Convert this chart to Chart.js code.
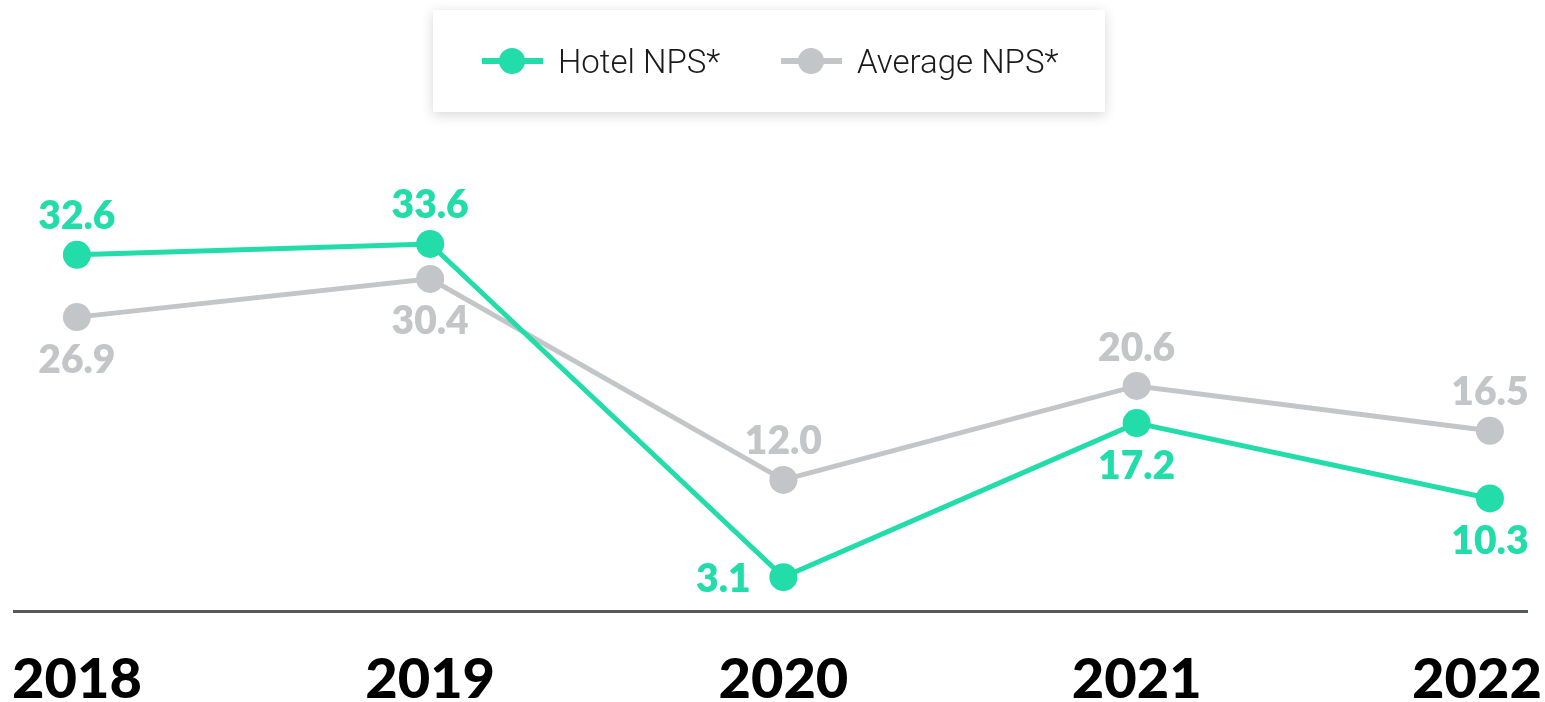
<!DOCTYPE html>
<html>
<head>
<meta charset="utf-8">
<script src="https://cdn.jsdelivr.net/npm/chart.js@4.4.1/dist/chart.umd.min.js"></script>
<style>
  html, body { margin: 0; padding: 0; background: #fff; }
  #wrap { position: relative; width: 1545px; height: 702px; }
  #legend {
    position: absolute; left: 433px; top: 10px; width: 672px; height: 102px;
    background: #fff; box-shadow: 0 3px 12px rgba(0,0,0,0.16);
    display: flex; align-items: center; padding-left: 49px; box-sizing: border-box;
    font-family: Roboto, sans-serif; font-weight: 300; font-size: 33px; color: #1a1a1a;
  }
  .item { display: flex; align-items: center; width: 299px; }
  .mark { position: relative; width: 61px; height: 26px; margin-right: 15px; flex: none; }
  .mark .ln { position: absolute; left: 0; right: 0; top: 10px; height: 6px; }
  .mark .dot { position: absolute; left: 17px; top: 0; width: 26px; height: 26px; border-radius: 50%; }
</style>
</head>
<body>
<div id="wrap">
  <canvas id="chart" width="1545" height="702"></canvas>
  <div id="legend"></div>
</div>
<script>
// data
var years = ['2018', '2019', '2020', '2021', '2022'];
var hotelNps = [32.6, 33.6, 3.1, 17.2, 10.3];
var averageNps = [26.9, 30.4, 12.0, 20.6, 16.5];

var teal = '#22dca9';
var grey = '#c2c6c8';

// where each value label sits relative to its point
var hotelLabelPos = ['above', 'above', 'left', 'below', 'below'];
var averageLabelPos = ['below', 'below', 'above', 'above', 'above'];

function toPoints(vals) {
  var pts = [];
  for (var i = 0; i < vals.length; i++) {
    pts.push({x: i, y: vals[i]});
  }
  return pts;
}

var valueLabels = {
  id: 'valueLabels',
  afterDatasetsDraw: function (chart) {
    var ctx = chart.ctx;
    ctx.save();
    ctx.font = '800 39px Lato';
    ctx.textAlign = 'center';
    ctx.textBaseline = 'middle';
    chart.data.datasets.forEach(function (ds, di) {
      var meta = chart.getDatasetMeta(di);
      meta.data.forEach(function (pt, i) {
        var pos = ds.labelPos[i];
        var x = pt.x, y = pt.y;
        if (pos == 'above') y -= 40;
        else if (pos == 'below') y += 41;
        else if (pos == 'left') x -= 60;
        ctx.fillStyle = ds.borderColor;
        ctx.fillText(ds.data[i].y.toFixed(1), x, y + 2);
      });
    });
    // year labels under the axis
    var xs = chart.scales.x;
    ctx.font = '900 56px Lato';
    ctx.fillStyle = '#000';
    ctx.textBaseline = 'alphabetic';
    years.forEach(function (yr, i) {
      var w = ctx.measureText(yr).width;
      var cx = xs.getPixelForValue(i);
      var left = cx - w / 2;
      if (left < 12) left = 12;
      if (left + w > 1542) left = 1542 - w;
      ctx.textAlign = 'left';
      ctx.fillText(yr, left, 698);
    });
    ctx.restore();
  }
};

var chart = new Chart(document.getElementById('chart'), {
  type: 'line',
  data: {
    datasets: [{
      label: 'Hotel NPS*',
      data: toPoints(hotelNps),
      labelPos: hotelLabelPos,
      borderColor: teal,
      backgroundColor: teal,
      borderWidth: 5,
      pointRadius: 14,
      pointBorderWidth: 0,
      clip: false,
      order: 0
    }, {
      label: 'Average NPS*',
      data: toPoints(averageNps),
      labelPos: averageLabelPos,
      borderColor: grey,
      backgroundColor: grey,
      borderWidth: 5,
      pointRadius: 14,
      pointBorderWidth: 0,
      clip: false,
      order: 1
    }]
  },
  options: {
    responsive: false,
    animation: false,
    layout: { padding: { left: 12, right: 18, top: 174, bottom: 91 } },
    plugins: { legend: { display: false }, tooltip: { enabled: false } },
    scales: {
      x: {
        type: 'linear', min: -0.178, max: 4.105,
        grid: { display: false, drawTicks: false },
        ticks: { display: false },
        border: { display: true, color: '#55595c', width: 3 }
      },
      y: { display: false, min: 0, max: 40 }
    }
  },
  plugins: [valueLabels]
});

// html legend from the chart's datasets
var legendEl = document.getElementById('legend');
chart.data.datasets.forEach(function (ds) {
  var item = document.createElement('div');
  item.className = 'item';
  item.innerHTML = '<div class="mark"><div class="ln" style="background:' + ds.borderColor +
    '"></div><div class="dot" style="background:' + ds.borderColor + '"></div></div><span></span>';
  item.querySelector('span').textContent = ds.label;
  legendEl.appendChild(item);
});
</script>
</body>
</html>
